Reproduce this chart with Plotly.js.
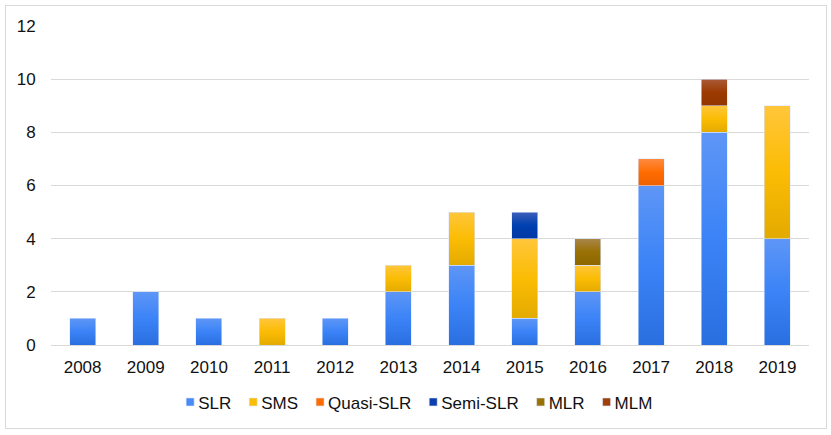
<!DOCTYPE html>
<html>
<head>
<meta charset="utf-8">
<script src="https://cdn.plot.ly/plotly-3.0.1.min.js"></script>
<style>
html,body{margin:0;padding:0;background:#fff;}
#wrap{position:relative;width:831px;height:435px;}
#chart{position:absolute;left:0;top:0;width:831px;height:435px;}
#frame{position:absolute;left:5px;top:5px;width:820px;height:422px;border:1px solid #d9d9d9;pointer-events:none;}
</style>
</head>
<body>
<div id="wrap"><div id="chart"></div><div id="frame"></div></div>
<script>
const years = ['2008','2009','2010','2011','2012','2013','2014','2015','2016','2017','2018','2019'];
const SLR      = [1,2,1,0,1,2,3,1,2,6,8,4];
const SMS      = [0,0,0,1,0,1,2,3,1,0,1,5];
const QuasiSLR = [0,0,0,0,0,0,0,0,0,1,0,0];
const SemiSLR  = [0,0,0,0,0,0,0,1,0,0,0,0];
const MLR      = [0,0,0,0,0,0,0,0,1,0,0,0];
const MLM      = [0,0,0,0,0,0,0,0,0,0,1,0];
const yTicks   = [0,2,4,6,8,10,12];

const seriesNames = ['SLR','SMS','Quasi-SLR','Semi-SLR','MLR','MLM'];
const seriesData = [SLR,SMS,QuasiSLR,SemiSLR,MLR,MLM];
const colors = ['#4a8af5','#fbbc04','#ff6d01','#0b3fae','#997104','#a0400c'];
const grads = [
  ['#5e96f6','#3b83f7','#2a6fe0'],
  ['#ffc63a','#fbbc04','#e3aa00'],
  ['#ff8a3f','#ff6d01','#ee6000'],
  ['#3b5fb8','#0040b0','#0038a4'],
  ['#a8864a','#997104','#8c6600'],
  ['#aa5a38','#9c3a00','#923600']
];

const traces = seriesNames.map((n,i)=>({
  type:'bar', name:n, x:years, y:seriesData[i].map(v=>v===0?null:v),
  marker:{color:colors[i], line:{color:'rgba(220,230,255,0.7)', width:0.8}},
  hoverinfo:'x+y+name'
}));

const layout = {
  width:831, height:435,
  margin:{l:51, r:22, t:26, b:90},
  paper_bgcolor:'rgba(0,0,0,0)', plot_bgcolor:'#fff',
  barmode:'stack', bargap:0.59,
  font:{family:'"Liberation Sans", Arial, sans-serif', size:17, color:'#111'},
  xaxis:{type:'category', showgrid:false, showline:true, linecolor:'#d9d9d9', linewidth:1,
         ticks:'outside', ticklen:7, tickcolor:'rgba(0,0,0,0)', tickfont:{size:17,color:'#111'}},
  yaxis:{range:[0,12], tickvals:yTicks, showgrid:true, gridcolor:'#d9d9d9', gridwidth:1,
         zeroline:false, showline:false, ticks:'outside', ticklen:11, tickcolor:'rgba(0,0,0,0)',
         tickfont:{size:17,color:'#111'}},
  showlegend:true,
  legend:{orientation:'h', x:0.485, xanchor:'center', y:-0.18, yanchor:'middle',
          font:{size:17,color:'#111'}, itemclick:false, traceorder:'normal'}
};

Plotly.newPlot('chart', traces, layout, {staticPlot:true}).then(gd=>{
  const svg = gd.querySelector('svg.main-svg');
  const NS='http://www.w3.org/2000/svg';
  let defs = svg.querySelector('defs');
  if(!defs){defs=document.createElementNS(NS,'defs');svg.insertBefore(defs,svg.firstChild);}
  grads.forEach((g,i)=>{
    const lg=document.createElementNS(NS,'linearGradient');
    lg.setAttribute('id','bargrad'+i);
    lg.setAttribute('x1','0');lg.setAttribute('y1','0');lg.setAttribute('x2','0');lg.setAttribute('y2','1');
    [[0,g[0]],[0.5,g[1]],[1,g[2]]].forEach(([o,c])=>{
      const s=document.createElementNS(NS,'stop');
      s.setAttribute('offset',o);s.setAttribute('stop-color',c);lg.appendChild(s);
    });
    defs.appendChild(lg);
  });
  gd.querySelectorAll('.barlayer .trace').forEach((tg,i)=>{
    tg.querySelectorAll('path').forEach(p=>{p.style.fill='url(#bargrad'+i+')';});
  });

  // compact legend entries (small square, short gap to text)
  const sb = gd.querySelector('.legend .scrollbox');
  if(sb) sb.removeAttribute('clip-path');
  const items = Array.from(gd.querySelectorAll('.legend .traces'));
  let x = 0;
  items.forEach(it=>{
    it.querySelectorAll('.legendpoints path').forEach(p=>{p.setAttribute('d','M4,4H-4V-4H4Z');});
    const txt = it.querySelector('.legendtext');
    txt.setAttribute('x', 28);
    const w = txt.getComputedTextLength();
    const m = /translate\(\s*([-\d.e]+)[ ,]+([-\d.e]+)\s*\)/.exec(it.getAttribute('transform')||'');
    const yy = m ? parseFloat(m[2]) : 0;
    it.setAttribute('transform','translate('+x+','+yy+')');
    x += 28 + w + 2;
  });
  const grp = gd.querySelector('.legend .groups') || sb;
  const bb = grp.getBoundingClientRect();
  const bbSvg = svg.getBoundingClientRect();
  const curCenter = (bb.left + bb.right)/2 - bbSvg.left;
  const delta = 418.5 - curCenter;
  items.forEach(it=>{
    const m = /translate\(\s*([-\d.e]+)[ ,]+([-\d.e]+)\s*\)/.exec(it.getAttribute('transform'));
    it.setAttribute('transform','translate('+(parseFloat(m[1])+delta)+','+m[2]+')');
  });
});
</script>
</body>
</html>
